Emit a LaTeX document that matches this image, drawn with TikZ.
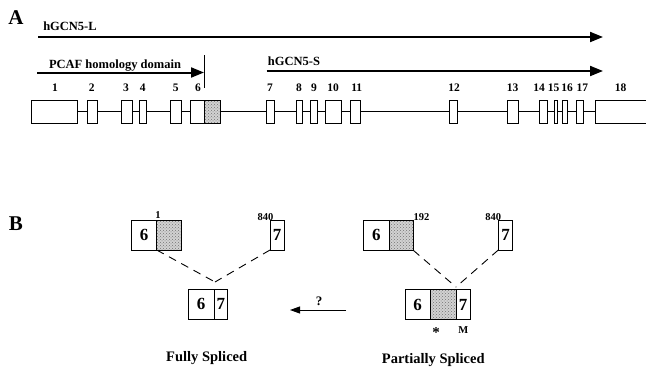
\documentclass[tikz,border=0pt]{standalone}
\usepackage{fontspec}
\setmainfont{Liberation Serif}
\usetikzlibrary{arrows.meta,patterns}
\tikzset{
  exon/.style={draw, line width=0.7pt, inner sep=0pt, outer sep=0pt, minimum height=23pt, fill=white},
  dotted box/.style={preaction={fill=gray!35}, pattern=crosshatch dots, pattern color=gray!90!black},
  num/.style={font=\fontsize{11.5}{12}\selectfont\bfseries, inner sep=0pt, anchor=base},
  lbl/.style={font=\fontsize{12.5}{13}\selectfont\bfseries, inner sep=0pt, anchor=base},
  big/.style={font=\fontsize{17}{18}\selectfont\bfseries, inner sep=0pt},
  small/.style={font=\fontsize{10.5}{11}\selectfont\bfseries, inner sep=0pt, anchor=base},
  title/.style={font=\fontsize{14.5}{15}\selectfont\bfseries, inner sep=0pt, anchor=base},
  panel/.style={font=\fontsize{21}{22}\selectfont\bfseries, inner sep=0pt, anchor=base},
  bigarrow/.style={line width=2pt, -{Triangle[length=13pt,width=10pt]}},
  box/.style={draw, line width=0.9pt, inner sep=0pt, outer sep=0pt, minimum height=30pt},
  splice/.style={line width=0.9pt, dash pattern=on 8pt off 6pt},
}
\begin{document}
\begin{tikzpicture}[x=1pt,y=-1pt]
\useasboundingbox (0,0) rectangle (646,367);
\clip (0,0) rectangle (646,367);
% panel letters
\node[panel] (pA) at (16,24) {A};
\node[panel] (pB) at (16,230) {B};
% long arrows
\node[lbl] (tL) at (70,30) {hGCN5-L};
\coordinate (Ls) at (38,37);
\coordinate (Le) at (603,37);
\draw[bigarrow] (Ls) -- (Le);
\node[lbl] (tP) at (115,68) {PCAF homology domain};
\coordinate (Ps) at (37,72.5);
\coordinate (Pe) at (204,72.5);
\draw[bigarrow] (Ps) -- (Pe);
\coordinate (Bt) at (204.5,55);
\coordinate (Bb) at (204.5,88);
\draw[line width=1.6pt] (Bt) -- (Bb);
\node[lbl] (tS) at (294,65) {hGCN5-S};
\coordinate (Ss) at (266.7,71);
\coordinate (Se) at (603,71);
\draw[bigarrow] (Ss) -- (Se);
% exons
\foreach \n/\l/\r in {1/31.7/77.7, 2/87.7/97.3, 3/121.7/132.3, 4/139.3/146.7, 5/170/181.7,
  6/190.7/204, 7/266.7/274, 8/296/302.7, 9/310/317.3, 10/325.7/341, 11/350/360.7,
  12/449.3/457.7, 13/507.3/518.3, 14/539/547.7, 15/554.3/557.7, 16/562.3/567.3,
  17/576.7/583.3, 18/595/660}
  {\node[exon, minimum width={\r-\l}] (e\n) at ({(\l+\r)/2},111.5) {};}
\node[exon, dotted box, minimum width=16] (e6s) at (212,111.5) {};
\draw[line width=0.7pt] (e1.east) -- (e2.west) (e2.east) -- (e3.west) (e3.east) -- (e4.west)
  (e4.east) -- (e5.west) (e5.east) -- (e6.west) (e6s.east) -- (e7.west) (e7.east) -- (e8.west)
  (e8.east) -- (e9.west) (e9.east) -- (e10.west) (e10.east) -- (e11.west) (e11.east) -- (e12.west)
  (e12.east) -- (e13.west) (e13.east) -- (e14.west) (e14.east) -- (e15.west) (e15.east) -- (e16.west)
  (e16.east) -- (e17.west) (e17.east) -- (e18.west);
% exon numbers
\foreach \n/\x in {1/55, 2/91.7, 3/126, 4/142.7, 5/175.7, 6/198, 7/270, 8/299, 9/314,
  10/333, 11/356.7, 12/454, 13/512.7, 14/539, 15/553.5, 16/567, 17/582.3, 18/620.5}
  {\node[num] (n\n) at (\x,91.7) {\n};}
% ---- panel B left ----
\node[box, big, minimum width=25] (fa6) at (144.2,235) {6};
\node[box, dotted box, minimum width=25] (fas) at (169.2,235) {};
\node[small] (f1) at (158,218.3) {1};
\node[box, big, minimum width=14] (fa7) at (277,235) {7};
\node[small] (f840) at (265.5,220) {840};
\coordinate (fj) at (215,282);
\draw[splice] (fas.south west) -- (fj);
\draw[splice] (fa7.south west) -- (fj);
\node[box, big, minimum width=25.7] (fb6) at (201.15,304) {6};
\node[box, big, minimum width=13.7] (fb7) at (220.85,304) {7};
\node[title] (tF) at (206.7,361.7) {Fully Spliced};
% arrow
\coordinate (as) at (346,310);
\coordinate (ae) at (290,310);
\draw[line width=0.9pt, -{Triangle[length=10pt,width=7pt]}] (as) -- (ae);
\node[small, font=\fontsize{13}{14}\selectfont\bfseries] (q) at (319,305) {?};
% ---- panel B right ----
\node[box, big, minimum width=26] (pa6) at (376.3,235.3) {6};
\node[box, dotted box, minimum width=24] (pas) at (401.3,235.3) {};
\node[small] (p192) at (421.5,220) {192};
\node[box, big, minimum width=14.4] (pa7) at (505.5,235) {7};
\node[small] (p840) at (493.3,220) {840};
\coordinate (pj) at (456,287);
\draw[splice] (pas.south east) -- (pj);
\draw[splice] (pa7.south west) -- (pj);
\node[box, big, minimum width=25] (pb6) at (417.5,304.6) {6};
\node[box, dotted box, minimum width=26] (pbs) at (443,304.6) {};
\node[box, big, minimum width=14] (pb7) at (463,304.6) {7};
\node[font=\fontsize{15}{16}\selectfont\bfseries, inner sep=0pt] (star) at (436,333) {*};
\node[small] (m) at (463.3,333.3) {M};
\node[title] (tPs) at (433.3,363.3) {Partially Spliced};
\end{tikzpicture}
\end{document}
